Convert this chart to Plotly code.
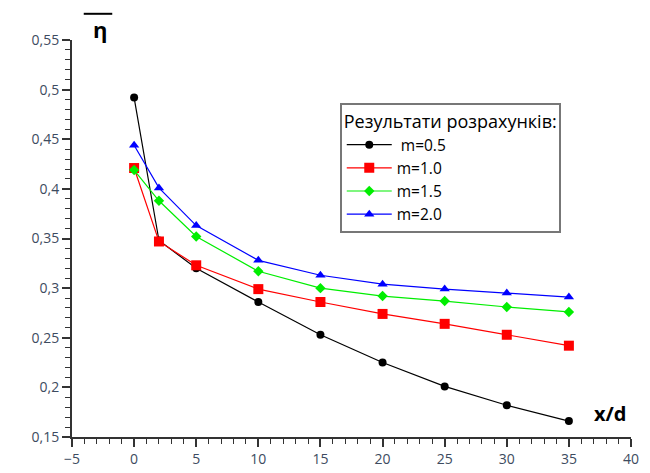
import plotly.graph_objects as go

x_vals = [0, 2, 5, 10, 15, 20, 25, 30, 35]
m05 = [0.492, 0.348, 0.320, 0.286, 0.253, 0.225, 0.201, 0.182, 0.166]
m10 = [0.421, 0.347, 0.323, 0.299, 0.286, 0.274, 0.264, 0.253, 0.242]
m15 = [0.419, 0.388, 0.352, 0.317, 0.300, 0.292, 0.287, 0.281, 0.276]
m20 = [0.444, 0.401, 0.363, 0.328, 0.313, 0.304, 0.299, 0.295, 0.291]
names = [" m=0.5", "m=1.0", "m=1.5", "m=2.0"]

series = [
    (m05, "#000000", "circle", 8),
    (m10, "#ff0000", "square", 10),
    (m15, "#00ee00", "diamond", 8),
    (m20, "#0000ff", "triangle-up", 9),
]

fig = go.Figure()
for (vals, col, sym, sz), nm in zip(series, names):
    fig.add_trace(go.Scatter(
        x=x_vals, y=vals, name=nm, mode="lines+markers",
        line=dict(color=col, width=1.2),
        marker=dict(color=col, symbol=sym, size=sz),
    ))

fontfam = "Open Sans"
tickcol = "#3d4b60"
fig.update_layout(
    width=650, height=473,
    margin=dict(l=72, r=19, t=40, b=36, autoexpand=False),
    paper_bgcolor="white", plot_bgcolor="white",
    separators=", ",
    font=dict(family=fontfam, size=14, color="#000000"),
    showlegend=True,
    legend=dict(
        x=0.479, y=0.842, xanchor="left", yanchor="top",
        bordercolor="#777777", borderwidth=2, bgcolor="white",
        title=dict(text="Результати розрахунків:", font=dict(size=18, family=fontfam)),
        font=dict(size=15.5, family=fontfam),
        tracegroupgap=0, itemwidth=45,
    ),
    xaxis=dict(
        range=[-5, 40], tickmode="linear", tick0=-5, dtick=5, automargin=False,
        showgrid=False, zeroline=False, showline=True, linecolor="#333333", linewidth=2,
        ticks="outside", ticklen=8, tickwidth=1.5, tickcolor="#333333",
        minor=dict(ticks="outside", ticklen=5, dtick=1, tickwidth=1.2, tickcolor="#333333", showgrid=False),
        tickfont=dict(size=14, color=tickcol, family=fontfam),
    ),
    yaxis=dict(
        range=[0.15, 0.55], tickmode="linear", tick0=0.15, dtick=0.05, automargin=False,
        showgrid=False, zeroline=False, showline=True, linecolor="#333333", linewidth=2,
        ticks="outside", ticklen=8, tickwidth=1.5, tickcolor="#333333",
        minor=dict(ticks="outside", ticklen=5, dtick=0.01, tickwidth=1.2, tickcolor="#333333", showgrid=False),
        tickfont=dict(size=14, color=tickcol, family=fontfam),
    ),
)

fig.add_annotation(text="<b>η</b>", xref="paper", yref="paper", x=0.05, y=1.028,
                   xanchor="center", yanchor="middle", showarrow=False,
                   font=dict(size=22, family=fontfam, color="#000000"))
fig.add_shape(type="line", xref="paper", yref="paper", x0=0.021, x1=0.072, y0=1.066, y1=1.066,
              line=dict(color="#000000", width=2))
fig.add_annotation(text="<b>x/d</b>", xref="paper", yref="paper", x=0.962, y=0.06,
                   xanchor="center", yanchor="middle", showarrow=False,
                   font=dict(size=20, family=fontfam, color="#000000"))

fig.write_html("out.html")
